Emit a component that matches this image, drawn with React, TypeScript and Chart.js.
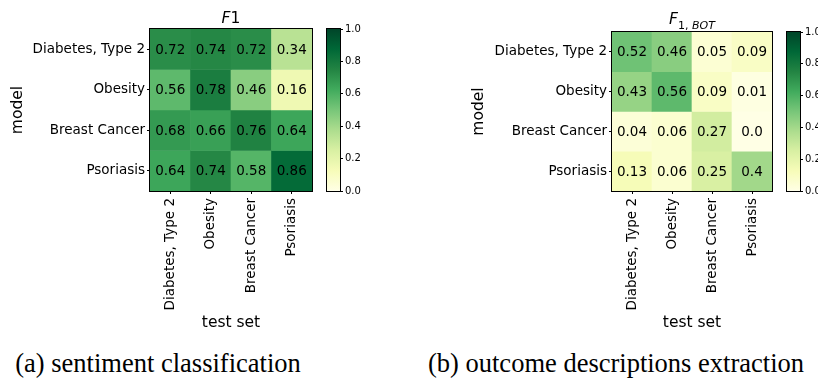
import React, { useEffect, useRef } from "react";
import { Chart, registerables } from "chart.js";

Chart.register(...registerables);

// ---------- data ----------
const testSets = ["Diabetes, Type 2", "Obesity", "Breast Cancer", "Psoriasis"];
const models = ["Diabetes, Type 2", "Obesity", "Breast Cancer", "Psoriasis"];

const f1Diabetes = [0.72, 0.74, 0.72, 0.34];
const f1Obesity = [0.56, 0.78, 0.46, 0.16];
const f1Breast = [0.68, 0.66, 0.76, 0.64];
const f1Psoriasis = [0.64, 0.74, 0.58, 0.86];

const botDiabetes = [0.52, 0.46, 0.05, 0.09];
const botObesity = [0.43, 0.56, 0.09, 0.01];
const botBreast = [0.04, 0.06, 0.27, 0.0];
const botPsoriasis = [0.13, 0.06, 0.25, 0.4];

const colorbarRange = [0, 1];
const colorbarTicks = [0, 0.2, 0.4, 0.6, 0.8, 1.0];

const f1Values = [f1Diabetes, f1Obesity, f1Breast, f1Psoriasis];
const botValues = [botDiabetes, botObesity, botBreast, botPsoriasis];

// ---------- colormap (YlGn) ----------
const YLGN = [
  [255, 255, 229],
  [247, 252, 185],
  [217, 240, 163],
  [173, 221, 142],
  [120, 198, 121],
  [65, 171, 93],
  [35, 132, 67],
  [0, 104, 55],
  [0, 69, 41],
];
const rgb = (c: number[]) => `rgb(${Math.round(c[0])},${Math.round(c[1])},${Math.round(c[2])})`;
function ylgn(v: number) {
  const t = Math.max(0, Math.min(1, v)) * 8;
  const i = Math.min(7, Math.floor(t));
  const f = t - i;
  const a = YLGN[i], b = YLGN[i + 1];
  return rgb([a[0] + (b[0] - a[0]) * f, a[1] + (b[1] - a[1]) * f, a[2] + (b[2] - a[2]) * f]);
}
const fmt = (v: number) => (Number.isInteger(v) ? v.toFixed(1) : String(v));

const FONT = "'DejaVu Sans', sans-serif";

const framePlugin = {
  id: "frame",
  afterDraw(chart: any) {
    const a = chart.chartArea;
    const ctx = chart.ctx;
    ctx.save();
    ctx.strokeStyle = "#000";
    ctx.lineWidth = 1;
    ctx.strokeRect(Math.round(a.left) - 0.5, Math.round(a.top) - 0.5, Math.round(a.right - a.left) + 1, Math.round(a.bottom - a.top) + 1);
    ctx.restore();
  },
};

function heatmapConfig(values: number[][], areaTop: number, yWidth: number, padRight: number, canvasH: number, areaBottom: number) {
  const cellLabels = {
    id: "cellLabels",
    afterDatasetsDraw(chart: any) {
      const ctx = chart.ctx;
      ctx.save();
      ctx.font = `13.5px ${FONT}`;
      ctx.fillStyle = "#000";
      ctx.textAlign = "center";
      ctx.textBaseline = "middle";
      chart.data.datasets.forEach((_: any, di: number) => {
        const meta = chart.getDatasetMeta(di);
        meta.data.forEach((el: any, i: number) => {
          const p = el.getCenterPoint();
          ctx.fillText(fmt(values[di][i]), p.x, p.y + 1);
        });
      });
      ctx.restore();
    },
  };
  return {
    type: "bar",
    data: {
      labels: testSets,
      datasets: models.map((m, r) => ({
        label: m,
        data: testSets.map(() => [r, r + 1]),
        backgroundColor: values[r].map(ylgn),
        borderWidth: 0,
        barPercentage: 1,
        categoryPercentage: 1,
        grouped: false,
      })),
    },
    options: {
      animation: false,
      responsive: false,
      events: [],
      layout: { padding: { top: areaTop, right: padRight, left: 0, bottom: 0 } },
      plugins: { legend: { display: false }, tooltip: { enabled: false }, title: { display: false } },
      scales: {
        x: {
          type: "category",
          stacked: true,
          offset: true,
          border: { display: false },
          grid: { offset: false, drawOnChartArea: false, drawTicks: true, tickLength: 3, color: "#000", lineWidth: 1 },
          ticks: { minRotation: 90, maxRotation: 90, autoSkip: false, color: "#000", font: { family: FONT, size: 13.5 }, padding: 4 },
          title: { display: true, text: "test set", color: "#000", font: { family: FONT, size: 15.5 }, padding: { top: 0, bottom: 2.7 } },
          afterFit: (s: any) => {
            s.height = canvasH - areaBottom;
          },
        },
        y: {
          type: "linear",
          min: 0,
          max: 4,
          reverse: true,
          stacked: false,
          border: { display: false },
          afterBuildTicks: (s: any) => {
            s.ticks = models.map((_, i) => ({ value: i + 0.5 }));
          },
          grid: { drawOnChartArea: false, drawTicks: true, tickLength: 3, color: "#000", lineWidth: 1 },
          ticks: {
            autoSkip: false,
            color: "#000",
            font: { family: FONT, size: 13.5 },
            padding: 2,
            callback: (_v: any, i: number) => models[i],
          },
          title: { display: true, text: "model", color: "#000", font: { family: FONT, size: 15.5 }, padding: { top: 8.7, bottom: 0 } },
          afterFit: (s: any) => {
            s.width = yWidth;
          },
        },
      },
    },
    plugins: [cellLabels, framePlugin],
  };
}

function colorbarConfig(areaTop: number, areaBottom: number, canvasH: number, padLeft: number, yWidth: number) {
  return {
    type: "bar",
    data: {
      labels: ["colorbar"],
      datasets: [
        {
          data: [colorbarRange],
          backgroundColor: (ctx: any) => {
            const chart = ctx.chart;
            const a = chart.chartArea;
            if (!a) return "#fff";
            const g = chart.ctx.createLinearGradient(0, a.bottom, 0, a.top);
            YLGN.forEach((c, i) => g.addColorStop(i / 8, rgb(c)));
            return g;
          },
          borderWidth: 0,
          barPercentage: 1,
          categoryPercentage: 1,
        },
      ],
    },
    options: {
      animation: false,
      responsive: false,
      events: [],
      layout: { padding: { top: areaTop, bottom: canvasH - areaBottom, left: padLeft, right: 0 } },
      plugins: { legend: { display: false }, tooltip: { enabled: false } },
      scales: {
        x: { display: false, offset: true },
        y: {
          position: "right",
          min: colorbarRange[0],
          max: colorbarRange[1],
          border: { display: false },
          afterBuildTicks: (s: any) => {
            s.ticks = colorbarTicks.map((v) => ({ value: v }));
          },
          grid: { drawOnChartArea: false, drawTicks: true, tickLength: 3, color: "#000", lineWidth: 1 },
          ticks: {
            color: "#000",
            font: { family: FONT, size: 10 },
            padding: 2,
            callback: (v: any) => Number(v).toFixed(1),
          },
          afterFit: (s: any) => {
            s.width = yWidth;
          },
        },
      },
    },
    plugins: [framePlugin],
  };
}

function ChartCanvas({ make, left, top, width, height }: any) {
  const ref = useRef<HTMLCanvasElement>(null);
  useEffect(() => {
    const chart = new Chart(ref.current as HTMLCanvasElement, make() as any);
    return () => chart.destroy();
  }, []);
  return (
    <canvas
      ref={ref}
      width={width}
      height={height}
      style={{ position: "absolute", left, top, width, height }}
    />
  );
}

export default function App() {
  const H = 335;
  return (
    <div
      style={{
        position: "absolute",
        left: 0,
        top: 0,
        width: 818,
        height: 381,
        overflow: "hidden",
        background: "#fff",
      }}
    >
      {/* panel (a) */}
      <ChartCanvas make={() => heatmapConfig(f1Values, 29, 150, 8, H, 191)} left={0} top={0} width={320} height={H} />
      <ChartCanvas make={() => colorbarConfig(29, 191, 200, 7, 40)} left={320} top={0} width={60} height={200} />
      <div
        style={{
          position: "absolute",
          left: 231,
          top: 18,
          transform: "translate(-50%, -50%)",
          font: `15.5px ${FONT}`,
          whiteSpace: "nowrap",
          color: "#000",
        }}
      >
        <i>F</i>1
      </div>

      {/* panel (b) */}
      <ChartCanvas make={() => heatmapConfig(botValues, 32, 151, 9, H, 191)} left={461} top={0} width={320} height={H} />
      <ChartCanvas make={() => colorbarConfig(32, 191, 200, 6, 18)} left={781} top={0} width={37} height={200} />
      <div
        style={{
          position: "absolute",
          left: 692,
          top: 21,
          transform: "translate(-50%, -50%)",
          font: `15.5px ${FONT}`,
          whiteSpace: "nowrap",
          color: "#000",
        }}
      >
        <i>F</i>
        <sub style={{ fontSize: "11px" }}>
          1, <i>BOT</i>
        </sub>
      </div>

      {/* captions */}
      <div
        style={{
          position: "absolute",
          left: 158,
          top: 350,
          transform: "translateX(-50%)",
          font: "26.5px 'Liberation Serif', serif",
          lineHeight: "26.5px",
          whiteSpace: "nowrap",
          color: "#000",
        }}
      >
        (a) sentiment classification
      </div>
      <div
        style={{
          position: "absolute",
          left: 616,
          top: 350,
          transform: "translateX(-50%)",
          font: "26.5px 'Liberation Serif', serif",
          lineHeight: "26.5px",
          whiteSpace: "nowrap",
          color: "#000",
        }}
      >
        (b) outcome descriptions extraction
      </div>
    </div>
  );
}
